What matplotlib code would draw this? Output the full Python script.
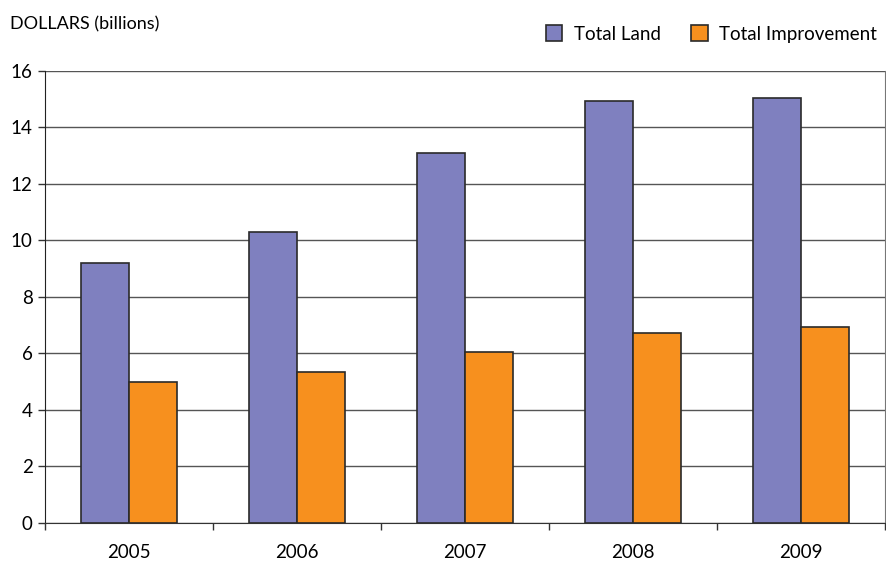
import numpy as np
import matplotlib
matplotlib.use("Agg")
import matplotlib.pyplot as plt
from matplotlib.ticker import FixedLocator

years = ["2005", "2006", "2007", "2008", "2009"]
total_land = [9.2, 10.3, 13.1, 14.95, 15.06]
total_improvement = [5.0, 5.35, 6.05, 6.73, 6.93]
y_ticks = [0, 2, 4, 6, 8, 10, 12, 14, 16]

LAND = "#7f80bf"
IMPROVE = "#f7901e"
EDGE = "#2a2a2a"

plt.rcParams["font.family"] = ["Lato", "DejaVu Sans"]

fig = plt.figure(figsize=(8.86, 5.66), dpi=100)
ax = fig.add_axes([0.051, 0.0765, 0.948, 0.798])

x = np.arange(len(years))
w = 0.285
ax.bar(x - w / 2, total_land, w, color=LAND, edgecolor=EDGE, linewidth=1.2,
       label="Total Land", zorder=3)
ax.bar(x + w / 2, total_improvement, w, color=IMPROVE, edgecolor=EDGE, linewidth=1.2,
       label="Total Improvement", zorder=3)

ax.set_xlim(-0.5, len(years) - 0.5)
ax.set_ylim(0, 16)
ax.set_yticks(y_ticks)
ax.set_xticks(x)
ax.set_xticklabels(years)
ax.xaxis.set_minor_locator(FixedLocator(np.arange(-0.5, len(years), 1.0)))
ax.tick_params(axis="x", which="major", length=0, pad=15, labelsize=13.5)
ax.tick_params(axis="x", which="minor", length=5, width=1, color="#333333")
ax.tick_params(axis="y", length=5, width=1, color="#333333", labelsize=13.5, pad=4)

ax.grid(axis="y", color="#555555", linewidth=1.0, zorder=0)
ax.spines["top"].set_visible(False)
ax.spines["left"].set_color("#222222")
ax.spines["bottom"].set_color("#333333")
ax.spines["right"].set_color("#777777")
ax.spines["right"].set_linewidth(0.8)

fig.text(0.011, 0.957, "DOLLARS (billions)", fontsize=13, ha="left", va="center")

fig.legend(loc="center right", bbox_to_anchor=(1.0, 0.94), ncol=2, frameon=False,
           fontsize=13.5, handlelength=0.9, handleheight=0.9, columnspacing=1.6,
           handletextpad=0.6, borderaxespad=0.1)

fig.savefig("out.png", dpi=100)
